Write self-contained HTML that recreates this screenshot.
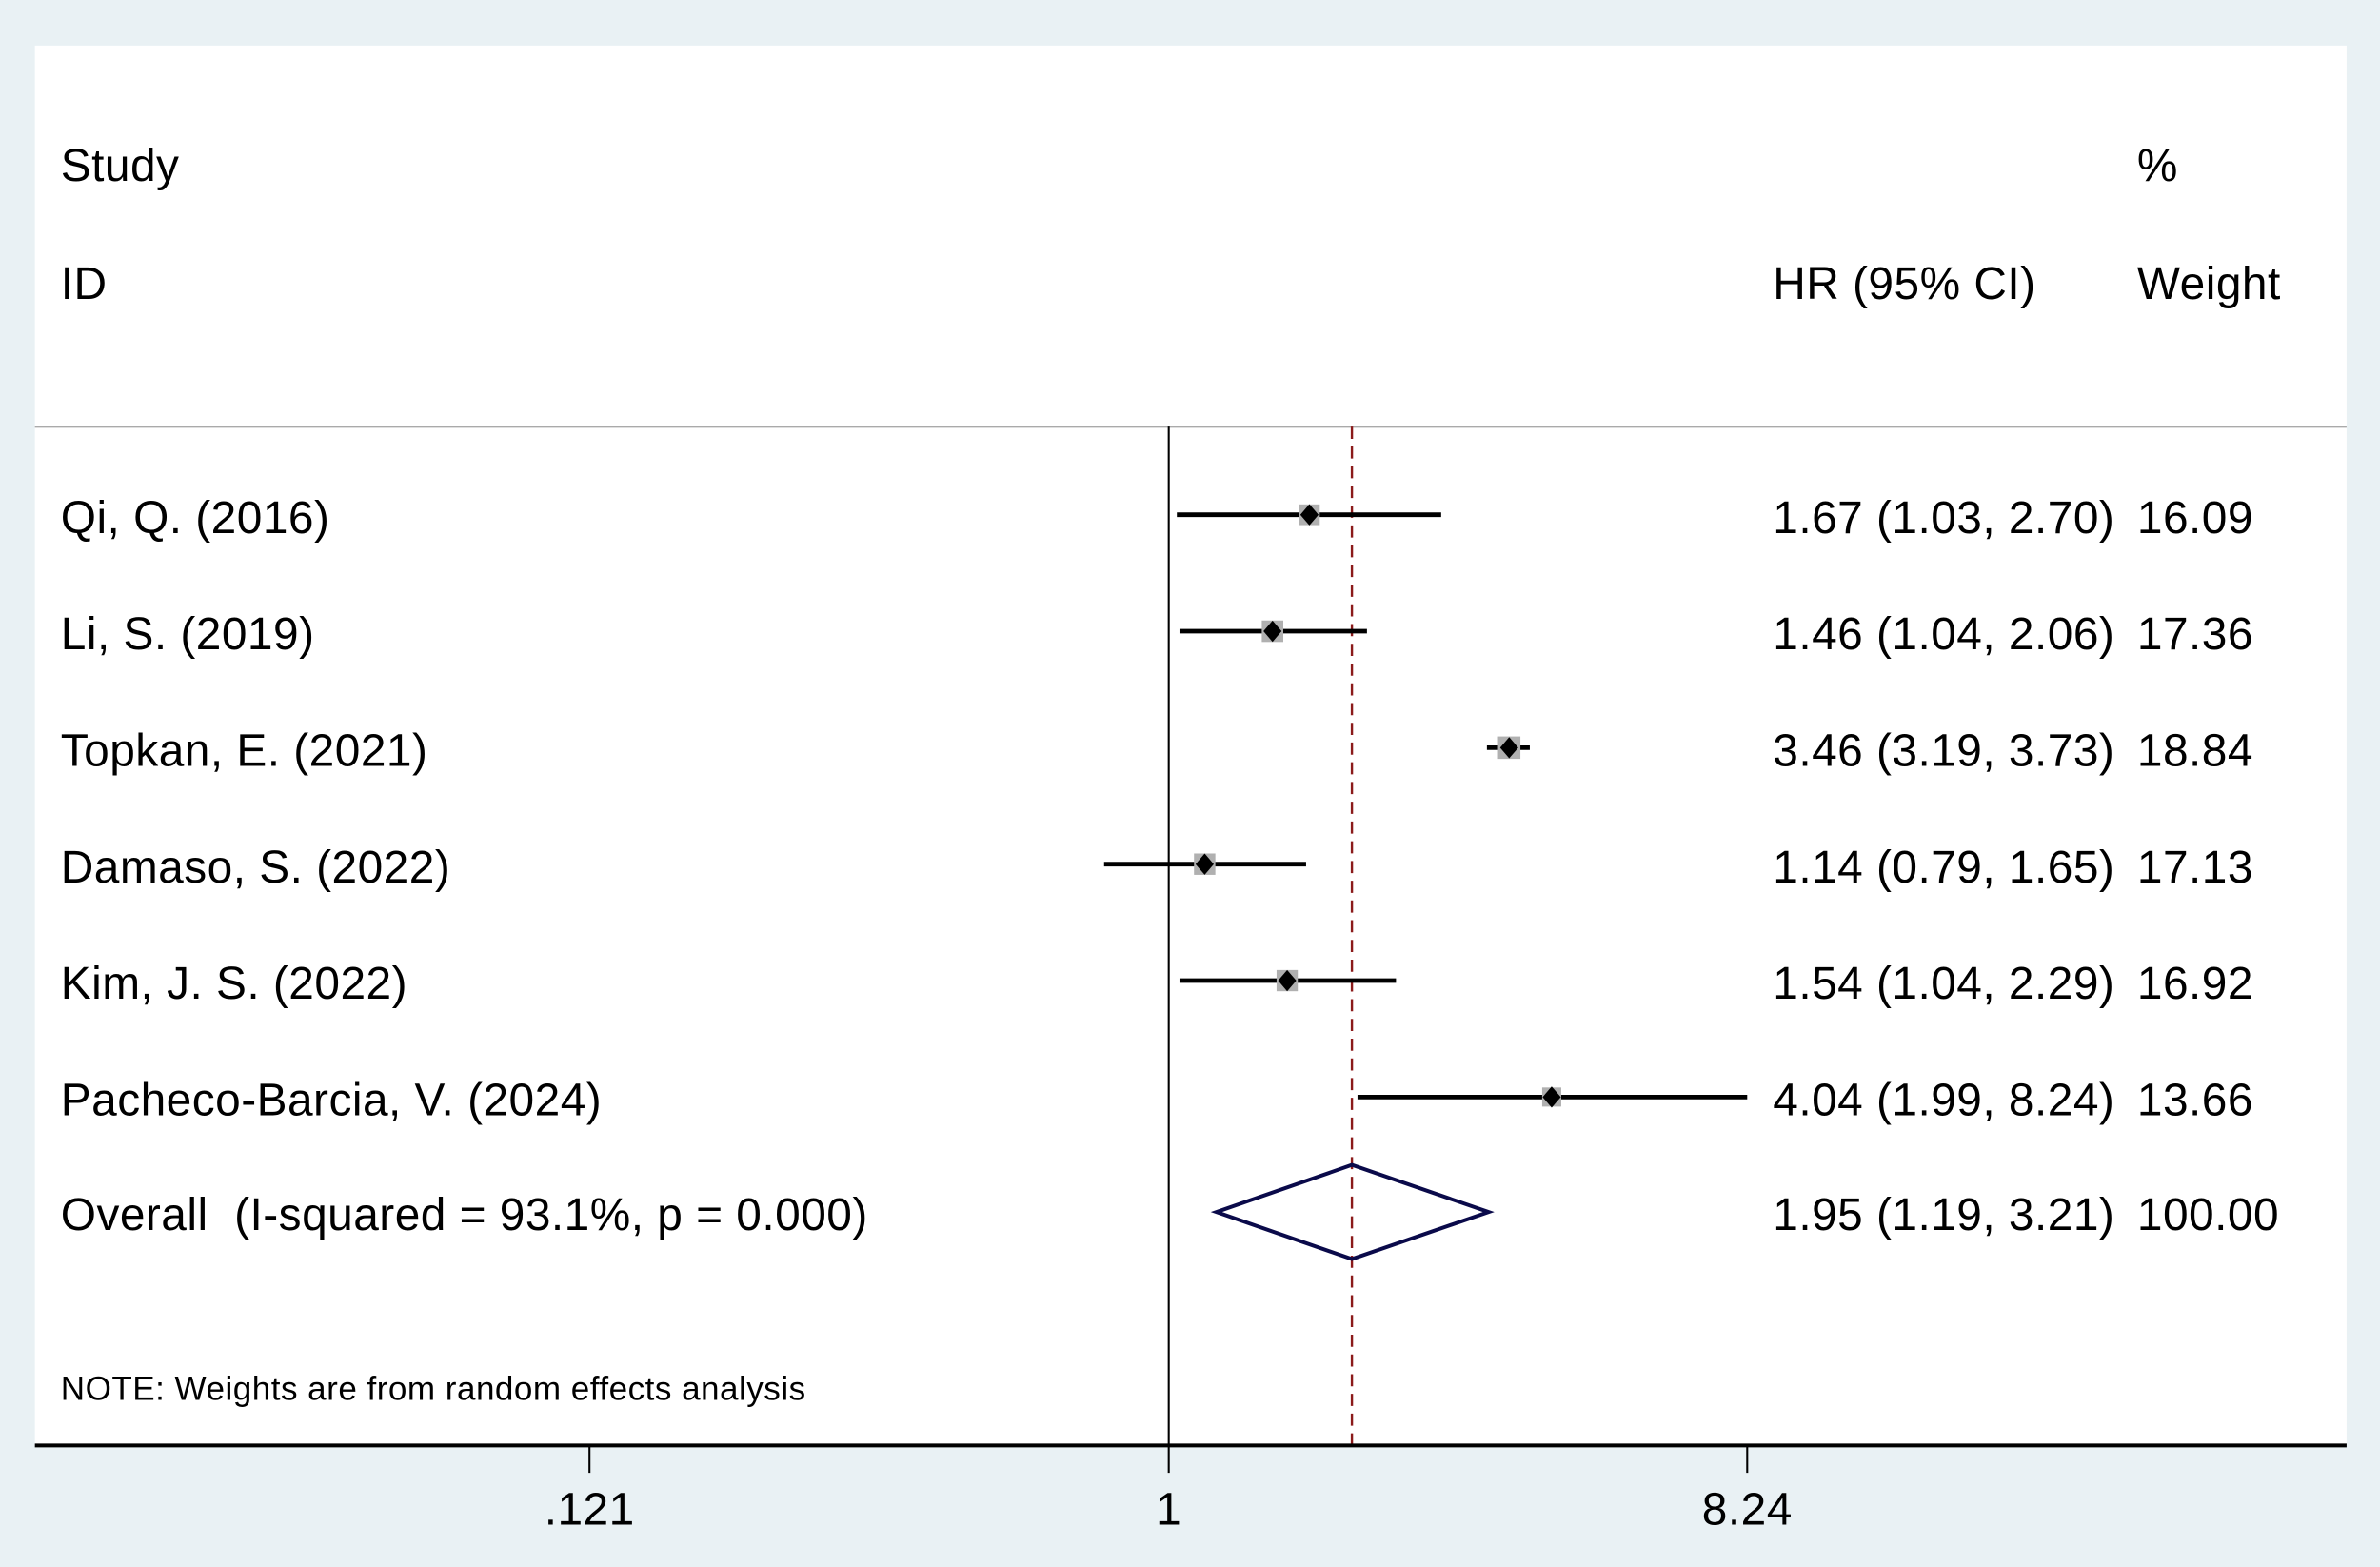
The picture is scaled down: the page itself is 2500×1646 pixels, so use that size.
<!DOCTYPE html>
<html><head><meta charset="utf-8"><style>
html,body{margin:0;padding:0;background:#e9f1f4;}
svg{display:block;}
text{font-family:"Liberation Sans",Arial,sans-serif;fill:#000;letter-spacing:0.3px;white-space:pre;}
</style></head><body>
<svg id="chart" width="2500" height="1646" viewBox="0 0 1568 1032" preserveAspectRatio="none" xmlns="http://www.w3.org/2000/svg">
<rect x="0" y="0" width="1568" height="1032" fill="#e9f1f4"/>
<rect x="23" y="30" width="1523" height="922" fill="#ffffff"/>
<line x1="23" y1="281" x2="1546" y2="281" stroke="#aaaaaa" stroke-width="1.5"/>
<text x="40" y="119" font-size="30">Study</text>
<text x="40" y="197" font-size="30">ID</text>
<text x="1168" y="197" font-size="30">HR (95% CI)</text>
<text x="1408" y="119" font-size="30">%</text>
<text x="1408" y="197" font-size="30">Weight</text>
<text x="40" y="922" font-size="22">NOTE: Weights are from random effects analysis</text>
<g id="marks"></g>
</svg>
<script>
const studies = ["Qi, Q. (2016)","Li, S. (2019)","Topkan, E. (2021)","Damaso, S. (2022)","Kim, J. S. (2022)","Pacheco-Barcia, V. (2024)"];
const hr = [1.67,1.46,3.46,1.14,1.54,4.04];
const lower = [1.03,1.04,3.19,0.79,1.04,1.99];
const upper = [2.70,2.06,3.73,1.65,2.29,8.24];
const weights = [16.09,17.36,18.84,17.13,16.92,13.66];
const overall = [1.95,1.19,3.21];
const overallWeight = 100.00;
const tickValues = [0.121,1,8.24];
const tickLabels = [".121","1","8.24"];

const NS="http://www.w3.org/2000/svg";
const g=document.getElementById('marks');
function xs(v){return 770+Math.log(v)*180.7;}
function ys(i){return 339+i*76.7;}
function mk(tag,attrs,parent){const e=document.createElementNS(NS,tag);for(const k in attrs)e.setAttribute(k,attrs[k]);(parent||g).appendChild(e);return e;}
function fmt(v){return v.toFixed(2);}

let e;
e=mk('line',{x1:xs(1),y1:281,x2:xs(1),y2:952,stroke:'#000','stroke-width':1.3});


e=mk('line',{x1:xs(overall[0]),y1:281,x2:xs(overall[0]),y2:952,stroke:'#8b1a1a','stroke-width':1.5,'stroke-dasharray':'8,5'});



studies.forEach((s,i)=>{
  const y=ys(i);
  let t=mk('text',{x:40,y:y+12,'font-size':30});t.textContent=s;
  
  
  let l=mk('line',{x1:xs(lower[i]),y1:y,x2:xs(upper[i]),y2:y,stroke:'#000','stroke-width':3});
  
  
  const sz=Math.sqrt(weights[i])*3.4;
  let r=mk('rect',{x:xs(hr[i])-sz/2,y:y-sz/2,width:sz,height:sz,fill:'#b0b0b0'});
  
  
  const cx=xs(hr[i]);
  let d=mk('polygon',{points:`${cx},${y-7} ${cx+6},${y} ${cx},${y+7} ${cx-6},${y}`,fill:'#000'});
  
  
  let h=mk('text',{x:1168,y:y+12,'font-size':30});h.textContent=`${fmt(hr[i])} (${fmt(lower[i])}, ${fmt(upper[i])})`;
  
  
  let w=mk('text',{x:1408,y:y+12,'font-size':30});w.textContent=fmt(weights[i]);
  
  
});
const oy=ys(6)-1;
e=mk('text',{x:40,y:oy+12,'font-size':30});e.textContent='Overall  (I-squared = 93.1%, p = 0.000)';


e=mk('polygon',{points:`${xs(overall[1])},${oy} ${xs(overall[0])},${oy-31} ${xs(overall[2])},${oy} ${xs(overall[0])},${oy+31}`,fill:'none',stroke:'#0a0a4a','stroke-width':2.5});


e=mk('text',{x:1168,y:oy+12,'font-size':30});e.textContent=`${fmt(overall[0])} (${fmt(overall[1])}, ${fmt(overall[2])})`;


e=mk('text',{x:1408,y:oy+12,'font-size':30});e.textContent=overallWeight.toFixed(2);



e=mk('line',{x1:23,y1:952,x2:1546,y2:952,stroke:'#000','stroke-width':2.5});


tickValues.forEach((v,i)=>{
  let tk=mk('line',{x1:xs(v),y1:952,x2:xs(v),y2:970,stroke:'#000','stroke-width':1.3});
  
  
  let tl=mk('text',{x:xs(v),y:1004,'font-size':30,'text-anchor':'middle'});tl.textContent=tickLabels[i];
  
  
});
</script>
</body></html>
